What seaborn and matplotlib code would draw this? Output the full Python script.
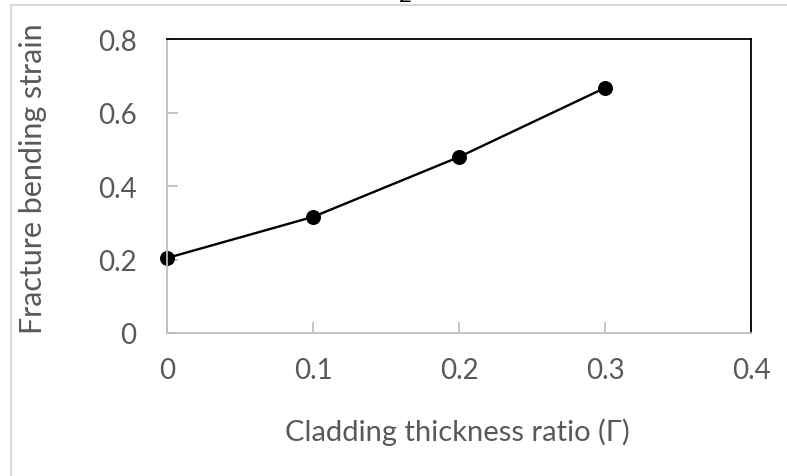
import matplotlib
matplotlib.use("Agg")
import matplotlib.pyplot as plt
from matplotlib.lines import Line2D
import seaborn as sns
import pandas as pd

# Fracture bending strain versus cladding thickness ratio
thickness_ratio = [0.0, 0.1, 0.2, 0.3]
bending_strain = [0.204, 0.316, 0.479, 0.667]
x_ticks = [0, 0.1, 0.2, 0.3, 0.4]
y_ticks = [0, 0.2, 0.4, 0.6, 0.8]
x_tick_labels = ["0", "0.1", "0.2", "0.3", "0.4"]
y_tick_labels = ["0", "0.2", "0.4", "0.6", "0.8"]

df = pd.DataFrame({"ratio": thickness_ratio, "strain": bending_strain})

sns.set_theme(style="ticks")
plt.rcParams["font.family"] = ["Lato", "DejaVu Sans"]

fig = plt.figure(figsize=(7.87, 4.77), dpi=100)
ax = fig.add_axes([0.2122, 0.2998, 0.7421, 0.6163])

sns.lineplot(data=df, x="ratio", y="strain", ax=ax, color="black",
             linewidth=1.7, marker="o", markersize=10,
             markeredgecolor="black", markerfacecolor="black", clip_on=False)

ax.set_xlim(0, 0.4)
ax.set_ylim(0, 0.8)
ax.set_xticks(x_ticks)
ax.set_xticklabels(x_tick_labels)
ax.set_yticks(y_ticks)
ax.set_yticklabels(y_tick_labels)

grey = "#bfbfbf"
ax.spines["left"].set_color(grey)
ax.spines["bottom"].set_color(grey)
ax.spines["top"].set_color("black")
ax.spines["right"].set_color("black")
for s in ax.spines.values():
    s.set_visible(True)
    s.set_linewidth(1.3)

ax.tick_params(axis="both", direction="in", length=8, width=1.3, color=grey,
               labelsize=20, labelcolor="#595959",
               left=True, bottom=True, top=False, right=False)
ax.tick_params(axis="y", pad=22)
ax.tick_params(axis="x", pad=17)

ax.set_xlabel("Cladding thickness ratio (Γ)", fontsize=21, color="#595959")
ax.set_ylabel("Fracture bending strain", fontsize=22, color="#595959")
ax.xaxis.label.set_va("center")
ax.yaxis.label.set_va("center")
ax.xaxis.set_label_coords(0.497, -0.333)
ax.yaxis.set_label_coords(-0.229, 0.53)

# outer chart-area border (top and left edges)
fig.add_artist(Line2D([11 / 787, 11 / 787], [0, 1 - 6 / 477],
                      transform=fig.transFigure, color="#d9d9d9", linewidth=1.5))
fig.add_artist(Line2D([11 / 787, 1], [1 - 6 / 477, 1 - 6 / 477],
                      transform=fig.transFigure, color="#d9d9d9", linewidth=1.5))
fig.text(405 / 787, 1 + 4 / 477, "2", ha="center", va="center",
         fontsize=16, color="black")

fig.savefig("out.png", dpi=100)
